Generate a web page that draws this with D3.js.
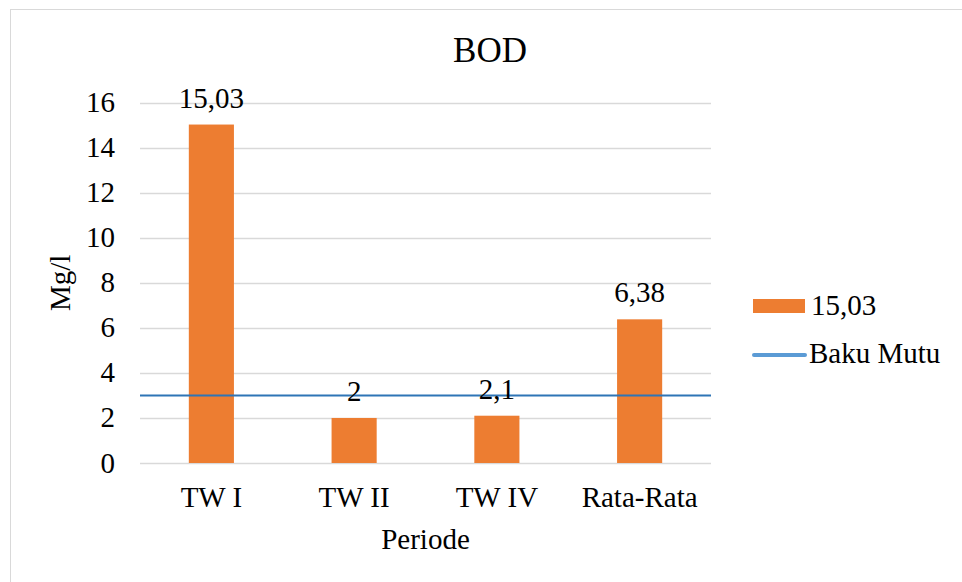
<!DOCTYPE html>
<html>
<head>
<meta charset="utf-8">
<script src="https://cdn.jsdelivr.net/npm/d3@7"></script>
<style>
    body { margin: 0; background: #fff; }
    text { font-family: "Liberation Serif", "Times New Roman", serif; fill: #000; }
</style>
</head>
<body>
<svg id="chart" width="962" height="582"></svg>
<script>
// Data
const categories = ['TW I', 'TW II', 'TW IV', 'Rata-Rata'];
const values = [15.03, 2, 2.1, 6.38];
const valueLabels = ['15,03', '2', '2,1', '6,38'];
const bakuMutu = 3;
const yTicks = [0, 2, 4, 6, 8, 10, 12, 14, 16];
const legendNames = ['15,03', 'Baku Mutu'];

const FONT = '29px';
const svg = d3.select('#chart');

// Chart area border (cropped on the right and bottom)
svg.append('rect')
    .attr('x', 10.5).attr('y', 9.5)
    .attr('width', 1000).attr('height', 1000)
    .attr('fill', 'none')
    .attr('stroke', '#d9d9d9');

const plot = { left: 140, right: 711, top: 102.7, bottom: 463 };

const x = d3.scaleBand()
    .domain(categories)
    .range([plot.left, plot.right])
    .paddingInner(0.684)
    .paddingOuter(0.342);

const y = d3.scaleLinear()
    .domain([0, 16])
    .range([plot.bottom, plot.top]);

// Gridlines
svg.append('g')
    .selectAll('line')
    .data(yTicks)
    .enter()
    .append('line')
    .attr('x1', plot.left).attr('x2', plot.right)
    .attr('y1', d => Math.round(y(d)) + 0.5)
    .attr('y2', d => Math.round(y(d)) + 0.5)
    .attr('stroke', '#d9d9d9')
    .attr('stroke-width', 1.3);

// Y tick labels
svg.append('g')
    .selectAll('text')
    .data(yTicks)
    .enter()
    .append('text')
    .attr('x', 115)
    .attr('y', d => y(d) + 9.5)
    .attr('text-anchor', 'end')
    .style('font-size', FONT)
    .text(d => d);

// Bars
svg.append('g')
    .selectAll('rect')
    .data(values)
    .enter()
    .append('rect')
    .attr('x', (d, i) => x(categories[i]))
    .attr('y', d => y(d))
    .attr('width', x.bandwidth())
    .attr('height', d => y(0) - y(d))
    .attr('fill', '#ed7d31');

// Baku Mutu line
svg.append('line')
    .attr('x1', plot.left).attr('x2', plot.right)
    .attr('y1', y(bakuMutu)).attr('y2', y(bakuMutu))
    .attr('stroke', '#2e75b6')
    .attr('stroke-width', 2);

// Data labels
svg.append('g')
    .selectAll('text')
    .data(values)
    .enter()
    .append('text')
    .attr('x', (d, i) => x(categories[i]) + x.bandwidth() / 2)
    .attr('y', d => y(d) - 17)
    .attr('text-anchor', 'middle')
    .style('font-size', FONT)
    .text((d, i) => valueLabels[i]);

// X labels
svg.append('g')
    .selectAll('text')
    .data(categories)
    .enter()
    .append('text')
    .attr('x', d => x(d) + x.bandwidth() / 2)
    .attr('y', 506.5)
    .attr('text-anchor', 'middle')
    .style('font-size', FONT)
    .text(d => d);

// Axis titles
svg.append('text')
    .attr('x', (plot.left + plot.right) / 2)
    .attr('y', 549)
    .attr('text-anchor', 'middle')
    .style('font-size', FONT)
    .text('Periode');

svg.append('text')
    .attr('transform', `translate(70,${(plot.top + plot.bottom) / 2}) rotate(-90)`)
    .attr('text-anchor', 'middle')
    .style('font-size', FONT)
    .text('Mg/l');

// Title
svg.append('text')
    .attr('x', 490)
    .attr('y', 62)
    .attr('text-anchor', 'middle')
    .style('font-size', '35px')
    .text('BOD');

// Legend
const legend = svg.append('g');
legend.append('rect')
    .attr('x', 753).attr('y', 299)
    .attr('width', 52).attr('height', 14)
    .attr('fill', '#ed7d31');
legend.append('text')
    .attr('x', 811).attr('y', 315)
    .style('font-size', FONT)
    .text(legendNames[0]);
legend.append('line')
    .attr('x1', 754).attr('x2', 805)
    .attr('y1', 355).attr('y2', 355)
    .attr('stroke', '#5b9bd5')
    .attr('stroke-width', 4)
    .attr('stroke-linecap', 'round');
legend.append('text')
    .attr('x', 809).attr('y', 363)
    .style('font-size', FONT)
    .text(legendNames[1]);
</script>
</body>
</html>
